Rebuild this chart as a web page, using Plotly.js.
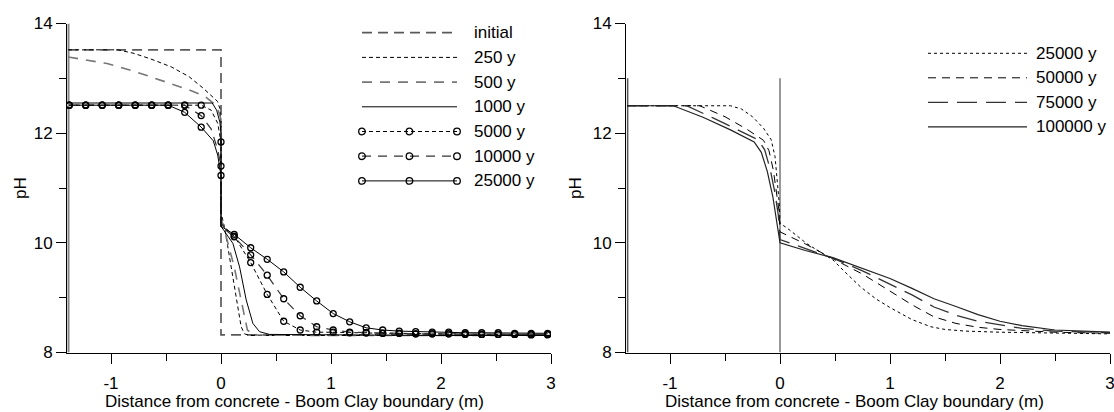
<!DOCTYPE html>
<html>
<head>
<meta charset="utf-8">
<script src="https://cdn.plot.ly/plotly-3.0.1.min.js"></script>
<style>
  html, body { margin: 0; padding: 0; background: #fff; }
  #chart { width: 1114px; height: 412px; }
</style>
</head>
<body>
<div id="chart"></div>
<script>
// ---------------- DATA ----------------
const leftNames = ['initial', '250 y', '500 y', '1000 y', '5000 y', '10000 y', '25000 y'];
const rightNames = ['25000 y', '50000 y', '75000 y', '100000 y'];
const xTickVals = [-1, 0, 1, 2, 3];
const xTickText = ['-1', '0', '1', '2', '3'];
const yTickVals = [8, 10, 12, 14];
const yTickText = ['8', '10', '12', '14'];
const xTitle = 'Distance from concrete - Boom Clay boundary (m)';
const yTitle = 'pH';

const xInit = [-1.39, 0, 0, 3.0];
const yInit = [13.52, 13.52, 8.32, 8.32];

const x250 = [-1.39, -0.94, -0.8, -0.648, -0.453, -0.29, -0.162, -0.081, -0.032, -0.01, 0, 0, 0.03, 0.06, 0.093, 0.139, 0.183, 0.214, 0.26, 1.0, 2.0, 3.0];
const y250 = [13.52, 13.52, 13.46, 13.36, 13.21, 13.03, 12.82, 12.67, 12.58, 12.45, 12.2, 10.55, 10.3, 9.95, 9.56, 8.96, 8.47, 8.34, 8.31, 8.31, 8.31, 8.31];

const x500 = [-1.39, -1.036, -0.777, -0.55, -0.29, -0.146, -0.065, -0.026, 0, 0, 0.03, 0.06, 0.12, 0.18, 0.24, 0.3, 1.0, 2.0, 3.0];
const y500 = [13.39, 13.27, 13.12, 12.97, 12.79, 12.67, 12.54, 12.42, 12.25, 10.45, 10.25, 10.02, 9.56, 8.96, 8.41, 8.32, 8.31, 8.31, 8.31];

const x1000 = [-1.39, -0.08, -0.04, -0.01, 0, 0, 0.025, 0.108, 0.169, 0.229, 0.29, 0.35, 0.44, 1.0, 2.0, 3.0];
const y1000 = [12.55, 12.55, 12.42, 12.2, 12.0, 10.3, 10.23, 9.99, 9.56, 8.96, 8.53, 8.38, 8.33, 8.32, 8.31, 8.31];

// model nodes carrying the circle symbols
const nodeX = [-1.38, -1.23, -1.08, -0.93, -0.78, -0.63, -0.48, -0.33, -0.18, 0, 0.12, 0.27, 0.42, 0.57, 0.72, 0.87, 1.02, 1.17, 1.32, 1.47, 1.62, 1.77, 1.92, 2.07, 2.22, 2.37, 2.52, 2.67, 2.82, 2.97];
const y5000 = [12.51, 12.51, 12.51, 12.51, 12.51, 12.51, 12.51, 12.51, 12.51, 11.84, 10.12, 9.64, 9.06, 8.57, 8.41, 8.37, 8.37, 8.36, 8.36, 8.35, 8.35, 8.34, 8.34, 8.34, 8.33, 8.33, 8.33, 8.33, 8.32, 8.32];
const y10000 = [12.51, 12.51, 12.51, 12.51, 12.51, 12.51, 12.51, 12.51, 12.32, 11.40, 10.11, 9.78, 9.41, 8.98, 8.67, 8.47, 8.41, 8.37, 8.36, 8.35, 8.35, 8.34, 8.34, 8.34, 8.34, 8.33, 8.33, 8.33, 8.33, 8.33];
const y25000 = [12.51, 12.51, 12.51, 12.51, 12.51, 12.51, 12.51, 12.38, 12.11, 11.23, 10.155, 9.91, 9.70, 9.47, 9.19, 8.94, 8.71, 8.56, 8.45, 8.41, 8.39, 8.38, 8.37, 8.37, 8.36, 8.36, 8.36, 8.35, 8.35, 8.35];
// extra profile points between the last concrete node and the boundary
const pre5000X = [-0.09, -0.03], pre5000Y = [12.42, 12.18], post5000Y = 10.35;
const pre10000X = [-0.09, -0.03], pre10000Y = [12.08, 11.7], post10000Y = 10.3;
const pre25000X = [-0.07, -0.03], pre25000Y = [11.86, 11.6], post25000Y = 10.3;

// Right panel
const xR25 = [-1.39, -0.45, -0.35, -0.25, -0.15, -0.08, -0.045, -0.02, -0.006, 0, 0.09, 0.24, 0.48, 0.6, 0.73, 0.87, 1.0, 1.2, 1.37, 1.5, 1.69, 2.0, 2.5, 3.0];
const yR25 = [12.5, 12.5, 12.44, 12.3, 12.09, 11.88, 11.57, 11.09, 10.7, 10.36, 10.23, 9.99, 9.69, 9.45, 9.2, 8.98, 8.82, 8.6, 8.47, 8.42, 8.39, 8.37, 8.35, 8.34];
const xR50 = [-1.39, -0.73, -0.5, -0.3, -0.15, -0.1, -0.06, -0.03, -0.01, 0, 0.23, 0.48, 0.75, 1.0, 1.2, 1.4, 1.6, 1.8, 2.0, 2.5, 3.0];
const yR50 = [12.5, 12.5, 12.3, 12.07, 11.87, 11.68, 11.32, 10.9, 10.6, 10.2, 9.98, 9.71, 9.43, 9.12, 8.87, 8.65, 8.53, 8.46, 8.42, 8.37, 8.35];
const xR75 = [-1.39, -0.85, -0.6, -0.38, -0.2, -0.14, -0.09, -0.045, -0.015, 0, 0.23, 0.48, 0.75, 1.0, 1.2, 1.4, 1.6, 1.8, 2.0, 2.2, 2.5, 3.0];
const yR75 = [12.5, 12.5, 12.27, 12.06, 11.88, 11.7, 11.35, 10.9, 10.5, 10.06, 9.9, 9.72, 9.49, 9.25, 9.05, 8.83, 8.68, 8.57, 8.5, 8.44, 8.39, 8.36];
const xR100 = [-1.39, -0.97, -0.7, -0.45, -0.235, -0.17, -0.115, -0.065, 0, 0.23, 0.48, 0.75, 1.0, 1.2, 1.4, 1.6, 1.8, 2.0, 2.2, 2.5, 3.0];
const yR100 = [12.5, 12.5, 12.29, 12.06, 11.84, 11.65, 11.3, 10.84, 10.0, 9.86, 9.73, 9.53, 9.35, 9.17, 8.98, 8.84, 8.69, 8.57, 8.49, 8.41, 8.37];

// ---------------- STYLES ----------------
const leftStyles = [
  {color: '#5a5a5a', width: 1.7, dash: '10px,6px', markers: false},
  {color: '#000', width: 1, dash: '4px,3px', markers: false},
  {color: '#777', width: 1.6, dash: '10px,8px', markers: false},
  {color: '#000', width: 1, dash: 'solid', markers: false},
  {color: '#000', width: 1, dash: '4px,3px', markers: true},
  {color: '#333', width: 1.2, dash: '9px,7px', markers: true},
  {color: '#000', width: 1, dash: 'solid', markers: true}
];
const rightStyles = [
  {color: '#000', width: 1, dash: '3px,3px'},
  {color: '#000', width: 1, dash: '8px,6px'},
  {color: '#333', width: 1.3, dash: '20px,9px'},
  {color: '#222', width: 1.2, dash: 'solid'}
];

function withBoundary(ny, preX, preY, postY) {
  const xs = [], ys = [];
  for (let i = 0; i < nodeX.length; i++) {
    if (nodeX[i] === 0) {
      for (let k = 0; k < preX.length; k++) { xs.push(preX[k]); ys.push(preY[k]); }
      xs.push(0); ys.push(ny[i]);
      xs.push(0); ys.push(postY);
    } else {
      xs.push(nodeX[i]); ys.push(ny[i]);
    }
  }
  return {x: xs, y: ys};
}

const leftSeries = [
  {x: xInit, y: yInit},
  {x: x250, y: y250},
  {x: x500, y: y500},
  {x: x1000, y: y1000},
  withBoundary(y5000, pre5000X, pre5000Y, post5000Y),
  withBoundary(y10000, pre10000X, pre10000Y, post10000Y),
  withBoundary(y25000, pre25000X, pre25000Y, post25000Y)
];
const leftMarkers = [null, null, null, null, y5000, y10000, y25000];
const rightSeries = [
  {x: xR25, y: yR25}, {x: xR50, y: yR50}, {x: xR75, y: yR75}, {x: xR100, y: yR100}
];

const traces = [];
leftSeries.forEach((s, i) => {
  const st = leftStyles[i];
  traces.push({x: s.x, y: s.y, xaxis: 'x', yaxis: 'y', mode: 'lines', name: leftNames[i],
    line: {color: st.color, width: st.width, dash: st.dash}, hoverinfo: 'skip'});
});
leftMarkers.forEach((my, i) => {
  if (!my) return;
  traces.push({x: nodeX, y: my, xaxis: 'x', yaxis: 'y', mode: 'markers', name: leftNames[i],
    marker: {symbol: 'circle-open', size: 6, color: '#000', line: {width: 1.3, color: '#000'}}, hoverinfo: 'skip'});
});
rightSeries.forEach((s, i) => {
  const st = rightStyles[i];
  traces.push({x: s.x, y: s.y, xaxis: 'x2', yaxis: 'y2', mode: 'lines', name: rightNames[i],
    line: {color: st.color, width: st.width, dash: st.dash}, hoverinfo: 'skip'});
});

// ---------------- LAYOUT ----------------
const W = 1114, H = 412;
const px = p => p / W;
const py = p => 1 - p / H;
const FONT = {family: 'Liberation Sans, Arial, sans-serif', size: 17, color: '#000'};

function xAxis(domain, anchor) {
  return {domain: domain, anchor: anchor, range: [-1.4, 3], showline: true, linecolor: '#000', linewidth: 1,
    ticks: 'outside', ticklen: 10, tickwidth: 1, tickcolor: '#000', tickmode: 'array',
    tickvals: xTickVals, ticktext: xTickText, ticklabelstandoff: 5, ticklabeloverflow: 'allow',
    minor: {tickmode: 'linear', tick0: 0, dtick: 0.5, ticks: 'outside', ticklen: 7, tickcolor: '#000', tickwidth: 1},
    showgrid: false, zeroline: false, tickfont: FONT, fixedrange: true};
}
function yAxis(domain, anchor) {
  return {domain: domain, anchor: anchor, range: [8, 14], showline: true, linecolor: '#000', linewidth: 1,
    ticks: 'outside', ticklen: 10, tickwidth: 1, tickcolor: '#000', tickmode: 'array',
    tickvals: yTickVals, ticktext: yTickText, ticklabeloverflow: 'allow',
    minor: {tickmode: 'linear', tick0: 8, dtick: 1, ticks: 'outside', ticklen: 7, tickcolor: '#000', tickwidth: 1},
    showgrid: false, zeroline: false, tickfont: FONT, fixedrange: true};
}
const yDom = [(H - 352.5) / H, (H - 23.5) / H];

const shapes = [
  {type: 'line', xref: 'x', yref: 'y', x0: -1.386, x1: -1.386, y0: 8, y1: 14, line: {color: '#888', width: 2}, layer: 'below'},
  {type: 'line', xref: 'x2', yref: 'y2', x0: -1.385, x1: -1.385, y0: 8, y1: 13, line: {color: '#555', width: 1.5}, layer: 'below'},
  {type: 'line', xref: 'x2', yref: 'y2', x0: 0, x1: 0, y0: 8, y1: 13, line: {color: '#555', width: 1.2}, layer: 'below'}
];
const annotations = [];

// left legend
const lLeg = {x0: 362, x1: 457, tx: 472, y0: 32.7, dy: 24.7};
leftNames.forEach((n, i) => {
  const st = leftStyles[i];
  const yy = lLeg.y0 + i * lLeg.dy;
  shapes.push({type: 'line', xref: 'paper', yref: 'paper', x0: px(lLeg.x0), x1: px(lLeg.x1), y0: py(yy), y1: py(yy),
    line: {color: st.color, width: st.width, dash: st.dash}});
  if (st.markers) {
    [lLeg.x0, (lLeg.x0 + lLeg.x1) / 2, lLeg.x1].forEach(mx => {
      shapes.push({type: 'circle', xref: 'paper', yref: 'paper', xsizemode: 'pixel', ysizemode: 'pixel',
        xanchor: px(mx), yanchor: py(yy), x0: -3.3, x1: 3.3, y0: -3.3, y1: 3.3, line: {color: '#000', width: 1.3}});
    });
  }
  annotations.push({xref: 'paper', yref: 'paper', x: px(lLeg.tx), y: py(yy), xanchor: 'left', yanchor: 'middle',
    text: n, showarrow: false, font: FONT});
});
// right legend
const rLeg = {x0: 928, x1: 1027, tx: 1034, y0: 53.3, dy: 24.5};
rightNames.forEach((n, i) => {
  const st = rightStyles[i];
  const yy = rLeg.y0 + i * rLeg.dy;
  shapes.push({type: 'line', xref: 'paper', yref: 'paper', x0: px(rLeg.x0), x1: px(rLeg.x1), y0: py(yy), y1: py(yy),
    line: {color: st.color, width: st.width, dash: st.dash}});
  annotations.push({xref: 'paper', yref: 'paper', x: px(rLeg.tx), y: py(yy), xanchor: 'left', yanchor: 'middle',
    text: n, showarrow: false, font: FONT});
});
// axis titles
[294.5, 854.5].forEach(cx => {
  annotations.push({xref: 'paper', yref: 'paper', x: px(cx), y: py(401), xanchor: 'center', yanchor: 'middle',
    text: xTitle, showarrow: false, font: FONT});
});
[20, 575].forEach(cx => {
  annotations.push({xref: 'paper', yref: 'paper', x: px(cx), y: py(188), xanchor: 'center', yanchor: 'middle',
    text: yTitle, textangle: -90, showarrow: false, font: FONT});
});

const layout = {
  width: W, height: H, margin: {l: 0, r: 0, t: 0, b: 0, pad: 0},
  paper_bgcolor: '#fff', plot_bgcolor: '#fff', showlegend: false, font: FONT,
  xaxis: xAxis([67 / W, 551 / W], 'y'),
  yaxis: yAxis(yDom, 'x'),
  xaxis2: xAxis([626 / W, 1110 / W], 'y2'),
  yaxis2: yAxis(yDom, 'x2'),
  shapes: shapes, annotations: annotations
};

Plotly.newPlot('chart', traces, layout, {staticPlot: true, displayModeBar: false});
</script>
</body>
</html>
